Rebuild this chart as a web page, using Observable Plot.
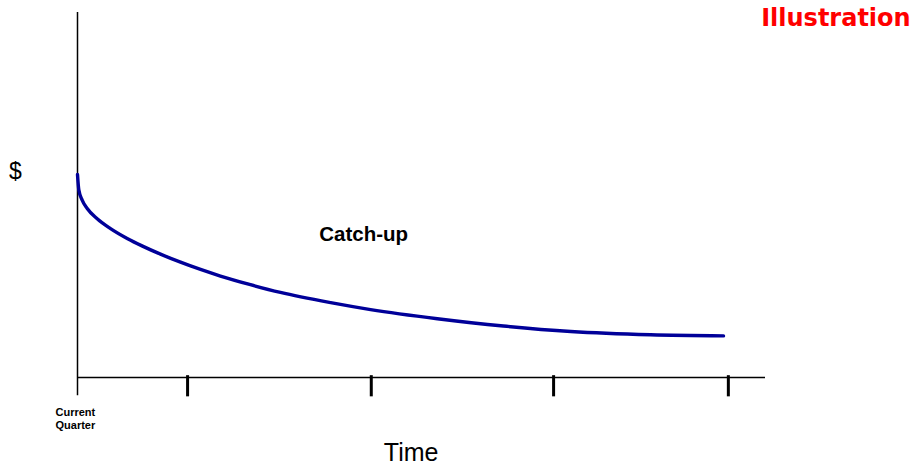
<!DOCTYPE html>
<html>
<head>
<meta charset="utf-8">
<script src="https://cdn.jsdelivr.net/npm/d3@7"></script>
<script src="https://cdn.jsdelivr.net/npm/@observablehq/plot@0.6"></script>
<style>
  html, body { margin: 0; padding: 0; background: #fff; }
  #chart svg { display: block; }
</style>
</head>
<body>
<div id="chart"></div>
<script>
// Time (arbitrary units, 0 = current quarter) and value ($, arbitrary units)
const curveTime  = [0, 0.19, 0.68, 1.41, 2.86, 4.8, 7.22, 9.45, 12.06, 14.97, 17.88, 20.78, 25, 29.5, 36.8, 42.6, 52.3, 61.9, 71.7, 83.3, 93.9];
const curveValue = [55.6, 51.4, 48.6, 46.3, 43.5, 40.8, 38.1, 36.0, 33.8, 31.6, 29.6, 27.8, 25.5, 23.3, 20.5, 18.6, 16.1, 14.1, 12.6, 11.7, 11.4];
const tickValues = [0, 16.0, 42.7, 69.2, 94.6];
const tickLabels = ["Current\nQuarter", "", "", "", ""];

const curve = curveTime.map((t, i) => ({t, v: curveValue[i]}));
const font = "'Liberation Sans', Arial, Helvetica, sans-serif";

const chart = Plot.plot({
  width: 915,
  height: 468,
  marginLeft: 77,
  marginRight: 150,
  marginTop: 12,
  marginBottom: 91,
  style: {fontFamily: font, background: "#fff", overflow: "visible"},
  x: {domain: [0, 100], axis: null},
  y: {domain: [0, 100], axis: null},
  marks: [
    // axes lines
    Plot.ruleX([0], {y1: 0, y2: 100, stroke: "#000", strokeWidth: 1.5}),
    Plot.ruleY([0], {x1: 0, x2: 100, stroke: "#000", strokeWidth: 1.5}),
    // tick marks
    Plot.ruleX(tickValues.slice(0, 1), {y1: 0, y2: -5, stroke: "#000", strokeWidth: 1.5}),
    Plot.ruleX(tickValues.slice(1), {y1: 0.5, y2: -5.3, stroke: "#000", strokeWidth: 3}),
    // tick labels
    Plot.text(tickValues.map((x, i) => ({x, label: tickLabels[i]})).filter(d => d.label), {
      x: "x", y: -8.1, text: "label", textAnchor: "start", lineAnchor: "top", dx: -22,
      fontSize: 11, fontWeight: "bold", lineHeight: 1.18, fill: "#000"
    }),
    // curve
    Plot.line(curve, {x: "t", y: "v", curve: "monotone-x", stroke: "#000099", strokeWidth: 3.4}),
    // labels
    Plot.text(["Catch-up"], {x: 41.6, y: 37.3, lineAnchor: "bottom", textAnchor: "middle",
      fontSize: 20.5, fontWeight: "bold", fill: "#000"}),
    Plot.text(["$"], {x: 0, y: 56.5, dx: -62, textAnchor: "middle", lineAnchor: "middle",
      fontSize: 23, fill: "#000"}),
    Plot.text(["Time"], {x: 48.5, y: -23, lineAnchor: "bottom", textAnchor: "middle",
      fontSize: 25, fill: "#000"}),
    Plot.text(["Illustration"], {x: 121.1, y: 96.2, lineAnchor: "bottom", textAnchor: "end",
      fontSize: 24, fontWeight: "bold", fill: "#ff0000", fontFamily: "'DejaVu Sans', Verdana, sans-serif"})
  ]
});
document.getElementById("chart").appendChild(chart);
</script>
</body>
</html>
